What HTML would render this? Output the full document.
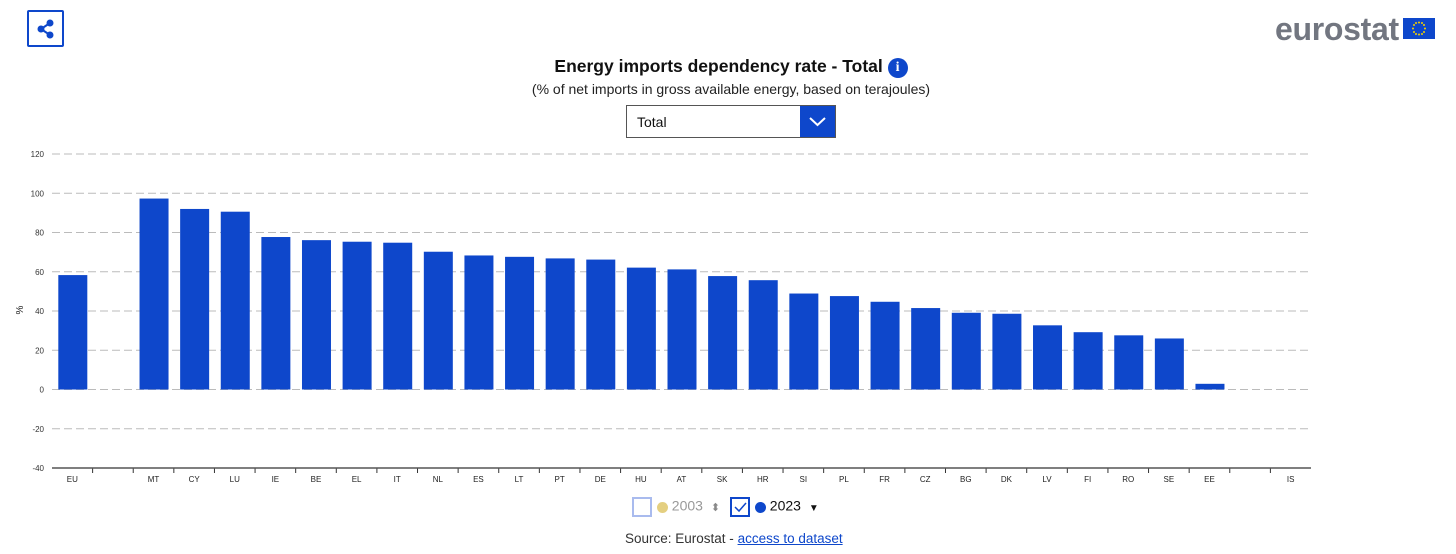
<!DOCTYPE html>
<html><head><meta charset="utf-8">
<style>
body{margin:0;width:1456px;height:554px;background:#fff;font-family:"Liberation Sans",Arial,sans-serif;position:relative;overflow:hidden}
.abs{position:absolute}
</style></head><body>
<div class="abs" style="left:27px;top:10px;width:33px;height:33px;border:2px solid #0e47cb;border-radius:2px">
<svg width="33" height="33" viewBox="0 0 33 33"><g fill="#0e47cb" stroke="#0e47cb" stroke-width="2"><line x1="12" y1="17" x2="21" y2="11"/><line x1="12" y1="17" x2="21" y2="23"/><circle cx="12" cy="17" r="2.5"/><circle cx="21" cy="11" r="2.5"/><circle cx="21" cy="23" r="2.5"/></g></svg></div>
<div class="abs" style="left:1275px;top:11px;font-size:32px;font-weight:bold;color:#727680;letter-spacing:-0.3px">eurostat</div>
<svg class="abs" style="left:1403px;top:18px" width="32" height="21"><rect width="32" height="21" fill="#0e47cb"/><g fill="#f5d000"><circle cx="16" cy="4.5" r="1"/><circle cx="16" cy="16.5" r="1"/><circle cx="10" cy="10.5" r="1"/><circle cx="22" cy="10.5" r="1"/><circle cx="11" cy="7" r="1"/><circle cx="21" cy="7" r="1"/><circle cx="11" cy="14" r="1"/><circle cx="21" cy="14" r="1"/><circle cx="13" cy="5" r="1"/><circle cx="19" cy="5" r="1"/><circle cx="13" cy="16" r="1"/><circle cx="19" cy="16" r="1"/></g></svg>
<div class="abs" style="left:0;width:1462px;top:56px;text-align:center;font-size:17.5px;font-weight:bold;color:#111">Energy imports dependency rate - Total <span style="display:inline-block;width:20px;height:20px;border-radius:50%;background:#0e47cb;color:#fff;font-size:14px;line-height:20px;vertical-align:1px;font-family:'Liberation Serif',serif">i</span></div>
<div class="abs" style="left:0;width:1462px;top:81px;text-align:center;font-size:14px;color:#222">(% of net imports in gross available energy, based on terajoules)</div>
<div class="abs" style="left:626px;top:105px;width:210px;height:33px;border:1px solid #555;box-sizing:border-box">
<span style="position:absolute;left:10px;top:8px;font-size:14px;color:#111">Total</span>
<div style="position:absolute;right:0;top:0;width:35px;height:31px;background:#0e47cb"><svg width="35" height="31"><polyline points="10,12 17.5,19 25,12" fill="none" stroke="#fff" stroke-width="2"/></svg></div></div>
<svg class="abs" id="chart" style="left:0;top:0" width="1456" height="500"></svg>
<div class="abs" style="left:632px;top:497px;height:20px;font-size:14px;color:#999">
<span style="display:inline-block;width:16px;height:16px;border:2px solid #a9bbee;vertical-align:middle"></span>
<span style="display:inline-block;width:11px;height:11px;border-radius:50%;background:#e4cf80;vertical-align:middle;margin-left:1px"></span> 2003 <span style="color:#888;font-size:11px;margin-left:4px">&#x2B0D;</span></div>
<div class="abs" style="left:730px;top:497px;height:20px;font-size:14px;color:#111">
<span style="display:inline-block;width:16px;height:16px;border:2px solid #0e47cb;vertical-align:middle;position:relative"><svg width="16" height="16" style="position:absolute;left:0;top:0"><polyline points="3,8 7,12 14,4" fill="none" stroke="#0e47cb" stroke-width="1.5"/></svg></span>
<span style="display:inline-block;width:11px;height:11px;border-radius:50%;background:#0e47cb;vertical-align:middle;margin-left:1px"></span> 2023 <span style="font-size:10px;margin-left:4px">&#9660;</span></div>
<div class="abs" style="left:625px;top:531px;font-size:13.5px;color:#333">Source: Eurostat - <a style="color:#0e47cb;text-decoration:underline">access to dataset</a></div>
<script>
const categories=["EU","","MT","CY","LU","IE","BE","EL","IT","NL","ES","LT","PT","DE","HU","AT","SK","HR","SI","PL","FR","CZ","BG","DK","LV","FI","RO","SE","EE","","IS"];
const values2023=[58.3,null,97.3,92,90.6,77.7,76.1,75.3,74.8,70.2,68.3,67.6,66.8,66.2,62.1,61.2,57.8,55.7,48.9,47.6,44.7,41.5,39.1,38.6,32.7,29.2,27.6,26,2.9,null,null];
const yTicks=[120,100,80,60,40,20,0,-20,-40];
const svg=document.getElementById('chart');
const NS='http://www.w3.org/2000/svg';
const x0=52,x1=1311,yTop=154,yBot=468,vMax=120,vMin=-40;
const band=(x1-x0)/categories.length;
const y=v=>yTop+(vMax-v)/(vMax-vMin)*(yBot-yTop);
function mk(t,a){const e=document.createElementNS(NS,t);for(const k in a)e.setAttribute(k,a[k]);svg.appendChild(e);return e;}
yTicks.forEach(t=>{
 if(t!==-40){const g=mk('line',{x1:x0,x2:x1,y1:y(t),y2:y(t),stroke:'#bbb','stroke-dasharray':'8,4'});
 
 }
 const l=mk('text',{x:44,y:y(t)+3,'text-anchor':'end','font-size':8,fill:'#333','font-family':'Liberation Sans'});
 l.textContent=t;
 
 
});
const yt=mk('text',{x:23,y:310,'text-anchor':'middle','font-size':10,fill:'#222',transform:'rotate(-90 23 310)','font-family':'Liberation Sans'});
yt.textContent='%';


categories.forEach((c,i)=>{
 const cx=x0+band*(i+0.5);
 const v=values2023[i];
 if(v!=null){const b=mk('rect',{x:cx-14,width:29,y:Math.min(y(v),y(0)),height:Math.abs(y(0)-y(v)),fill:'#0e47cb'});
 
 }
 const t=mk('text',{x:cx,y:482,'text-anchor':'middle','font-size':8,fill:'#222','font-family':'Liberation Sans'});
 t.textContent=c;
 
 
 if(i>0){const tk=mk('line',{x1:x0+band*i,x2:x0+band*i,y1:yBot,y2:yBot+5,stroke:'#333','stroke-width':1});
 
 }
});
const ax=mk('line',{x1:x0,x2:x1,y1:yBot,y2:yBot,stroke:'#555','stroke-width':1.5});


</script>
</body></html>
